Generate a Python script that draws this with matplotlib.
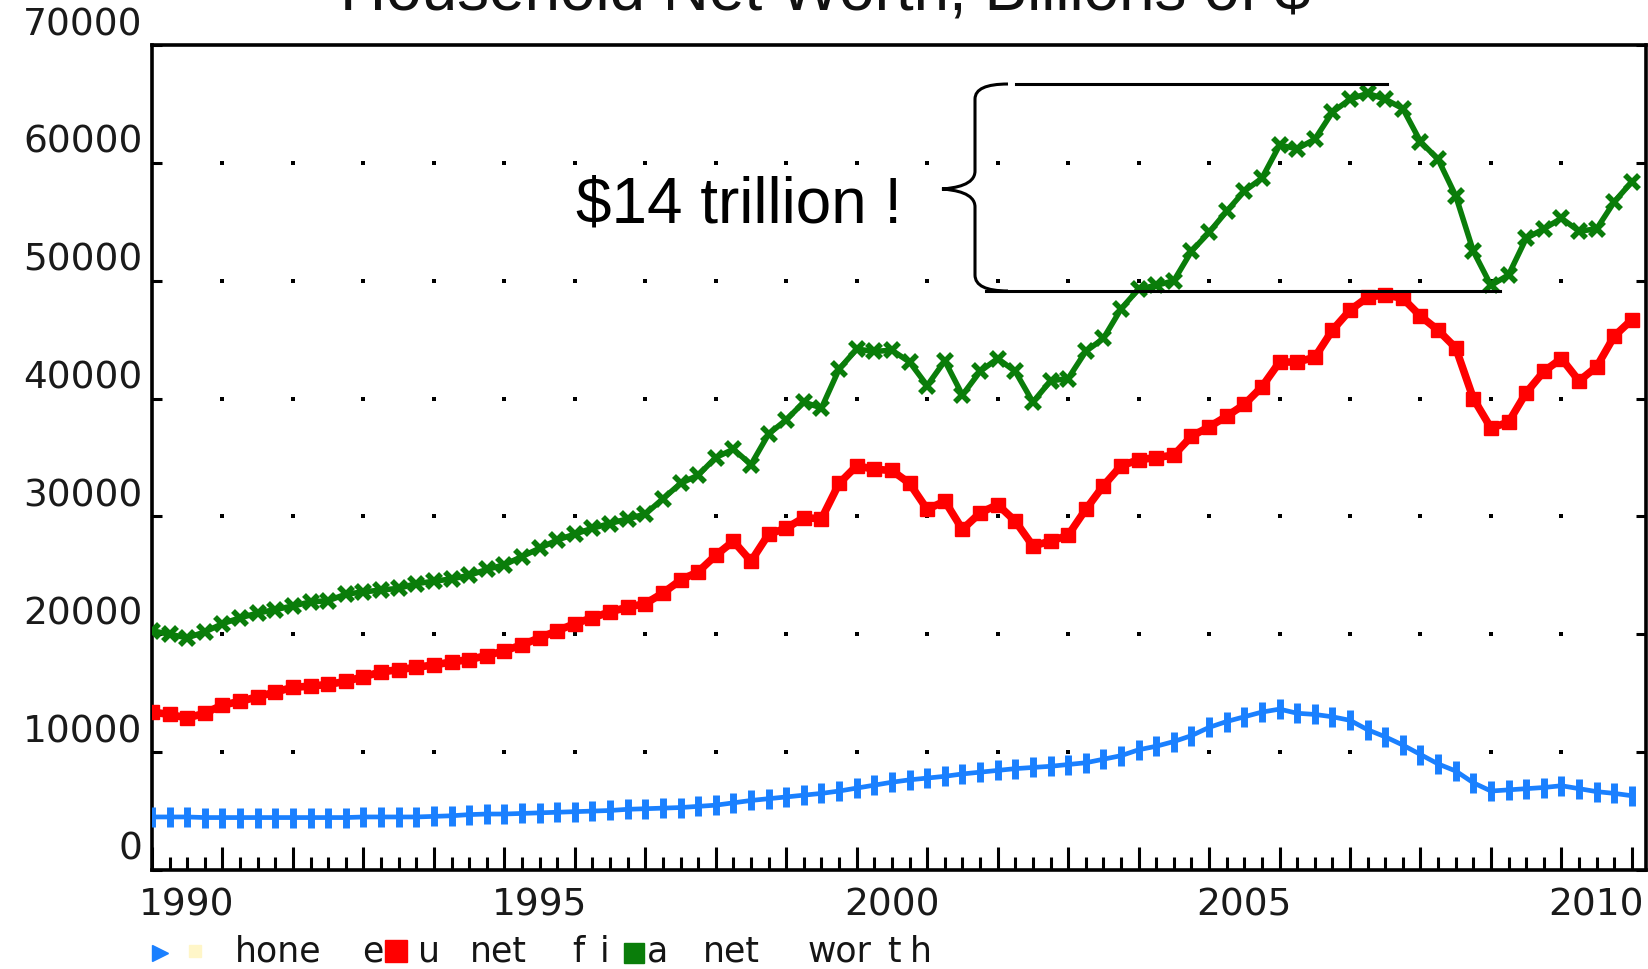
import numpy as np
import matplotlib.pyplot as plt
import matplotlib.transforms as mtransforms
from matplotlib.path import Path
from matplotlib.patches import PathPatch
from matplotlib.lines import Line2D
from matplotlib.ticker import FixedLocator, MultipleLocator, FuncFormatter

# quarterly data, 1990Q1 .. 2011Q1, billions of $
first_year = 1990
n_quarters = 85

net_worth = [
    20300, 20000, 19700, 20200, 20900, 21400, 21800, 22100,
    22400, 22750, 22850, 23400, 23600, 23750, 23900, 24300,
    24500, 24700, 25000, 25500, 25900, 26600, 27300, 28000,
    28500, 29000, 29400, 29800, 30200, 31500, 32800, 33500,
    35000, 35700, 34400, 37000, 38200, 39700, 39200, 42500,
    44200, 44000, 44100, 43100, 41100, 43200, 40300, 42300,
    43400, 42300, 39700, 41500, 41700, 44000, 45100, 47600,
    49300, 49600, 50000, 52500, 54100, 55900, 57600, 58700,
    61500, 61200, 62000, 64300, 65400, 65900, 65400, 64600,
    61800, 60300, 57200, 52500, 49600, 50500, 53600, 54400,
    55300, 54200, 54400, 56700, 58400,
]

net_financial = [
    13400, 13200, 12900, 13300, 14000, 14300, 14700, 15100,
    15500, 15600, 15750, 16000, 16400, 16800, 17000, 17200,
    17400, 17650, 17850, 18200, 18600, 19100, 19700, 20300,
    20900, 21400, 21900, 22300, 22600, 23500, 24600, 25300,
    26700, 27900, 26200, 28500, 29000, 29900, 29800, 32800,
    34300, 34000, 33900, 32800, 30600, 31300, 28900, 30300,
    31000, 29600, 27500, 27900, 28400, 30600, 32600, 34300,
    34800, 35000, 35200, 36800, 37600, 38500, 39500, 41000,
    43100, 43100, 43500, 45800, 47500, 48600, 48800, 48500,
    47000, 45800, 44300, 40000, 37500, 38000, 40500, 42300,
    43400, 41500, 42700, 45300, 46700,
]

home_equity = [
    4500, 4500, 4500, 4450, 4450, 4450, 4450, 4450,
    4450, 4450, 4450, 4450, 4500, 4500, 4500, 4500,
    4550, 4600, 4700, 4750, 4750, 4800, 4850, 4900,
    4950, 5000, 5050, 5150, 5200, 5250, 5300, 5400,
    5500, 5700, 5900, 6050, 6200, 6350, 6500, 6700,
    6950, 7200, 7450, 7650, 7800, 7950, 8150, 8300,
    8450, 8600, 8700, 8800, 8950, 9100, 9400, 9700,
    10200, 10500, 10900, 11400, 12100, 12600, 13000, 13400,
    13650, 13300, 13200, 13000, 12700, 11900, 11300, 10600,
    9800, 9000, 8400, 7400, 6700, 6800, 6900, 7000,
    7150, 6900, 6650, 6500, 6300,
]

year_ticks = list(range(1990, 2012))
value_ticks = list(range(0, 70001, 10000))
dot_years = list(range(1991, 2011))
dot_levels = list(range(10000, 60001, 10000))

title = "Household Net Worth, Billions of $"
note = "$14 trillion !"

assert len(net_worth) == len(net_financial) == len(home_equity) == n_quarters
t = first_year + np.arange(n_quarters) / 4.0

W, H = 1649, 970
fig = plt.figure(figsize=(W / 100, H / 100), dpi=100)
ax = fig.add_axes([152 / W, 99 / H, (1646 - 152) / W, (871 - 46) / H])


def fpx(x, y):
    # full-size pixel (y down) -> figure fraction
    return x / W, 1 - y / H


# dotted grid, only the dots at year x level crossings
gx, gy = np.meshgrid(dot_years, dot_levels)
ax.scatter(gx.ravel(), gy.ravel(), s=9, marker="s", color="black", lw=0, zorder=1)

ax.plot(t, home_equity, color="#1a80ff", lw=3.4, marker="|", ms=14, mew=5, zorder=3)
ax.plot(t, net_financial, color="#ff0000", lw=5.5, marker="s", ms=10, zorder=3)
ax.plot(t, net_worth, color="#0a7d0a", lw=4, marker="x", ms=10, mew=4, zorder=3)

ax.set_xlim(1990, 2011.2)
ax.set_ylim(0, 70000)

for s in ax.spines.values():
    s.set_linewidth(2.6)

ax.xaxis.set_major_locator(FixedLocator(year_ticks))
ax.xaxis.set_minor_locator(MultipleLocator(0.25))
ax.xaxis.set_major_formatter(FuncFormatter(lambda v, p: str(int(round(v))) if int(round(v)) % 5 == 0 else ""))
ax.yaxis.set_major_locator(FixedLocator(value_ticks))
ax.yaxis.set_major_formatter(FuncFormatter(lambda v, p: str(int(v))))

ax.tick_params(axis="x", which="major", direction="in", length=16.5, width=2.2,
               labelsize=27, pad=12, top=False)
ax.tick_params(axis="x", which="minor", direction="in", length=9.5, width=2.2, top=False)
ax.tick_params(axis="y", which="major", direction="in", length=7.5, width=2.2,
               labelsize=27, pad=7, left=True, right=True)

# the labels in the original sit off their ticks: x half a year right, y ~25px up
for tk in ax.xaxis.get_major_ticks():
    tk.label1.set_transform(tk.label1.get_transform() +
                            mtransforms.ScaledTranslation(0.35, 0, fig.dpi_scale_trans))
for tk in ax.yaxis.get_major_ticks():
    tk.label1.set_transform(tk.label1.get_transform() +
                            mtransforms.ScaledTranslation(0, 0.25, fig.dpi_scale_trans))
for lab in ax.get_xticklabels() + ax.get_yticklabels():
    lab.set_color("#1a1a1a")

# title, mostly cut off at the top edge
fig.text(0.5006, 1 - 10 / H, title, ha="center", va="baseline",
         fontsize=46, family="Liberation Sans", color="#111111")

# annotation text + brace + lines
fig.text(*fpx(576, 223), note, ha="left", va="baseline",
         fontsize=46, family="Liberation Sans", color="black")

brace_pts = [
    (1008, 85), (975, 85), (975, 100),
    (975, 172),
    (975, 186), (955, 189), (942, 190),
    (955, 191), (975, 194), (975, 208),
    (975, 276),
    (975, 292), (1008, 292),
]
codes = [Path.MOVETO, Path.CURVE3, Path.CURVE3,
         Path.LINETO,
         Path.CURVE4, Path.CURVE4, Path.CURVE4,
         Path.CURVE4, Path.CURVE4, Path.CURVE4,
         Path.LINETO,
         Path.CURVE3, Path.CURVE3]
brace = Path([fpx(x, y) for x, y in brace_pts], codes)
fig.add_artist(PathPatch(brace, transform=fig.transFigure, fill=False, lw=2.2, color="black"))

for (x0, x1, y) in [(1016, 1387, 85), (986, 1500, 292)]:
    (a, b), (c, d) = fpx(x0, y), fpx(x1, y)
    fig.add_artist(Line2D([a, c], [b, d], transform=fig.transFigure, lw=2.2, color="black"))

# the garbled legend strip along the bottom
base = 962
for txt, x in [("hone", 235), ("e", 362), ("u", 418), ("net", 470), ("f", 572),
               ("i", 600), ("a", 647), ("net", 703), ("wor", 808), ("t", 887), ("h", 910)]:
    fig.text(*fpx(x, base), txt, ha="left", va="baseline", fontsize=25, color="#151515")

for (x, y, m, c, ms) in [(160, 954, ">", "#1a80ff", 11), (195, 952, "s", "#fff6c8", 8),
                         (396, 952, "s", "#ff0000", 16), (634, 954, "s", "#0a7d0a", 14)]:
    a, b = fpx(x, y)
    fig.add_artist(Line2D([a], [b], transform=fig.transFigure, marker=m, ms=ms,
                          color=c, mec=c, lw=0))

fig.savefig("out.png", dpi=100)
